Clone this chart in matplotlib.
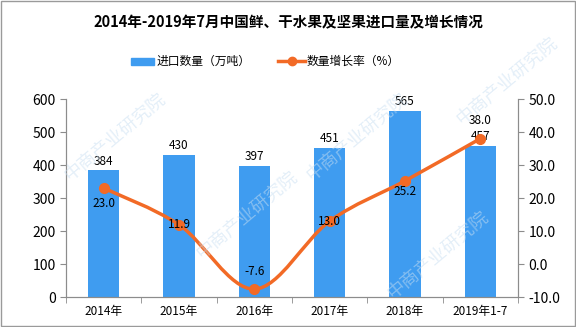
import numpy as np
import matplotlib
matplotlib.use("Agg")
from matplotlib import pyplot as plt
from matplotlib.path import Path
from matplotlib.patches import PathPatch, Rectangle

plt.rcParams['font.family'] = ['Noto Sans CJK SC', 'DejaVu Sans']

categories = ['2014年', '2015年', '2016年', '2017年', '2018年', '2019年1-7']
imports = [384, 430, 397, 451, 565, 457]
growth = [23.0, 11.9, -7.6, 13.0, 25.2, 38.0]
# vertical offset of each growth label, in points
growth_offsets = [-11, 0, 13, 0, -8, 13]

bar_color = '#3f9cf0'
line_color = '#f26a26'
axis_color = '#8c8c8c'

fig = plt.figure(figsize=(5.76, 3.27), dpi=100)
ax = fig.add_axes([0.1146, 0.0917, 0.7847, 0.6055])
ax2 = ax.twinx()

x = np.arange(len(categories))
ax.bar(x, imports, width=0.42, color=bar_color, zorder=2)
for xi, v in zip(x, imports):
    ax.annotate(str(v), (xi, v), xytext=(0, 2), textcoords='offset points',
                ha='center', va='bottom', fontsize=8.5)

ax.set_xlim(-0.5, len(categories) - 0.5)
ax.set_ylim(0, 600)
ax.set_yticks(range(0, 601, 100))
ax.set_xticks(x)
ax.set_xticklabels(categories, fontsize=8.5)
ax.set_xticks(np.arange(-0.5, len(categories)), minor=True)
ax.tick_params(axis='x', which='major', length=0, pad=6)
ax.tick_params(axis='x', which='minor', length=4, color=axis_color)
ax.tick_params(axis='y', labelsize=10, length=4, color=axis_color)

ax2.set_ylim(-10, 50)
ax2.set_yticks(range(-10, 51, 10))
ax2.set_yticklabels(['%.1f' % t for t in range(-10, 51, 10)])
ax2.tick_params(axis='y', labelsize=10, length=4, color=axis_color)

for a in (ax, ax2):
    a.spines['top'].set_visible(False)
    for s in ('left', 'right', 'bottom'):
        a.spines[s].set_color(axis_color)

# smooth line through growth points (Catmull-Rom as cubic Bezier)
pts = np.column_stack([x, growth]).astype(float)
verts = [tuple(pts[0])]
codes = [Path.MOVETO]
for i in range(len(pts) - 1):
    p0 = pts[max(i - 1, 0)]
    p1 = pts[i]
    p2 = pts[i + 1]
    p3 = pts[min(i + 2, len(pts) - 1)]
    c1 = p1 + (p2 - p0) / 6
    c2 = p2 - (p3 - p1) / 6
    verts += [tuple(c1), tuple(c2), tuple(p2)]
    codes += [Path.CURVE4] * 3
ax2.add_patch(PathPatch(Path(verts, codes), facecolor='none',
                        edgecolor=line_color, lw=2.5, zorder=3))
ax2.plot(x, growth, 'o', color=line_color, ms=7, zorder=4)
for xi, v, off in zip(x, growth, growth_offsets):
    ax2.annotate('%.1f' % v, (xi, v), xytext=(0, off), textcoords='offset points',
                 ha='center', va='center', fontsize=8.5, zorder=5)

# watermark
for wx, wy in [(0.20, 0.58), (0.43, 0.34), (0.62, 0.58), (0.76, 0.22), (0.88, 0.75)]:
    fig.text(wx, wy, '中商产业研究院', fontsize=13, color='#c9dff2', alpha=0.5,
             rotation=40, ha='center', va='center', zorder=0)

fig.text(0.5, 0.933, '2014年-2019年7月中国鲜、干水果及坚果进口量及增长情况',
         ha='center', va='center', fontsize=10.5, fontweight='bold')

# legend
fig.patches.append(Rectangle((0.228, 0.800), 0.040, 0.024, color=bar_color,
                             transform=fig.transFigure, figure=fig))
fig.text(0.271, 0.812, '进口数量（万吨）', ha='left', va='center', fontsize=8.5)
fig.lines.append(plt.Line2D([0.483, 0.530], [0.812, 0.812], color=line_color, lw=2.5,
                            transform=fig.transFigure, figure=fig))
fig.lines.append(plt.Line2D([0.5065], [0.812], marker='o', ms=6, color=line_color,
                            transform=fig.transFigure, figure=fig))
fig.text(0.532, 0.812, '数量增长率（%）', ha='left', va='center', fontsize=8.5)

fig.patches.append(Rectangle((0.001, 0.002), 0.997, 0.996, fill=False, edgecolor='#9a9a9a',
                             lw=1, transform=fig.transFigure, figure=fig))

fig.savefig('out.png', dpi=100)
